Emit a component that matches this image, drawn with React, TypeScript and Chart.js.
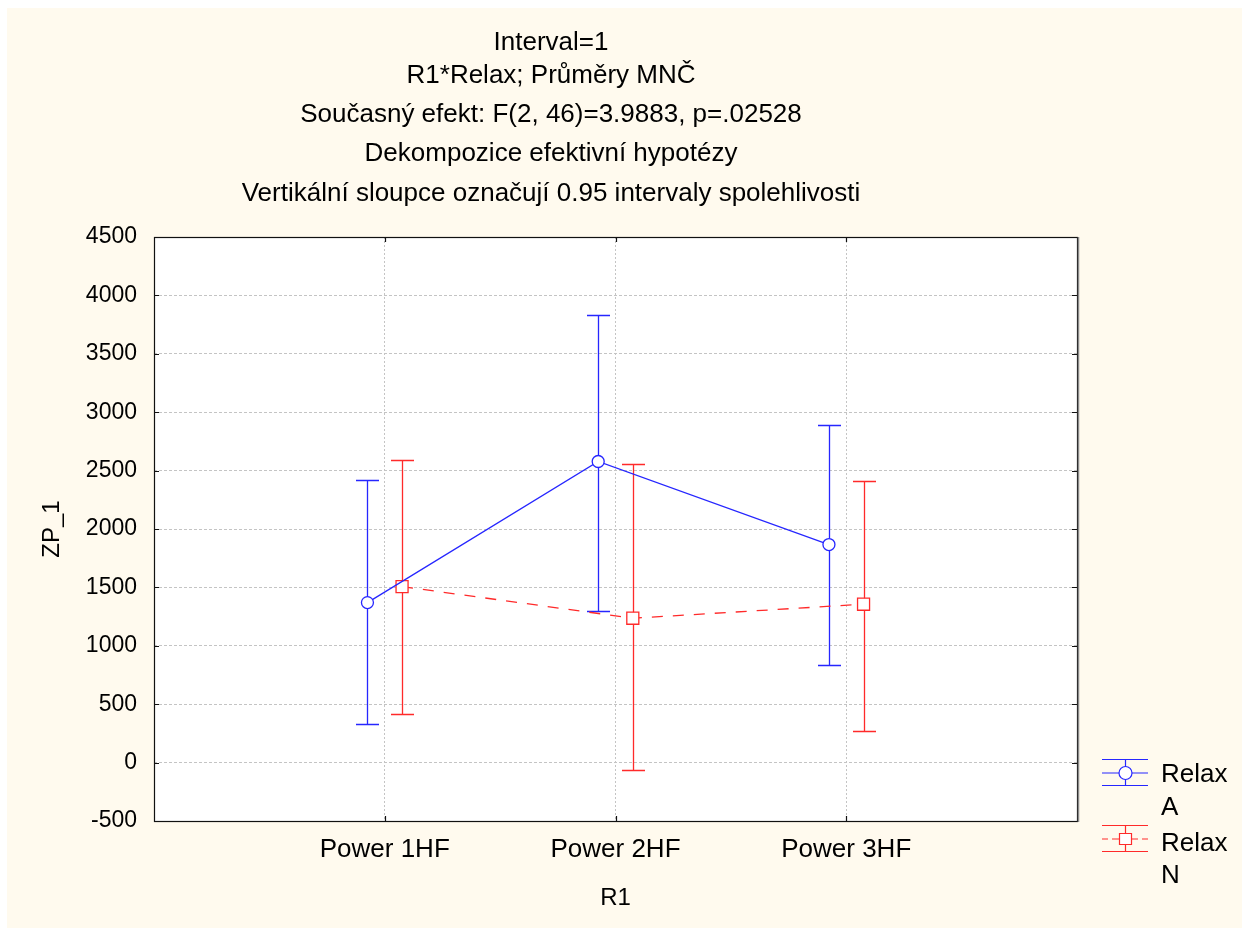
import React, { useEffect, useRef } from "react";
import { Chart, registerables } from "chart.js";

Chart.register(...registerables);

// ---------- data ----------
const categories = ["Power 1HF", "Power 2HF", "Power 3HF"];
const yTickValues = [-500, 0, 500, 1000, 1500, 2000, 2500, 3000, 3500, 4000, 4500];

const relaxAMeans = [1370, 2578, 1867];
const relaxALower = [328, 1299, 834];
const relaxAUpper = [2421, 3829, 2890];

const relaxNMeans = [1507, 1236, 1356];
const relaxNLower = [419, -66, 274];
const relaxNUpper = [2590, 2556, 2407];

const titleLines = [
  "Interval=1",
  "R1*Relax; Průměry MNČ",
  "Současný efekt: F(2, 46)=3.9883, p=.02528",
  "Dekompozice efektivní hypotézy",
  "Vertikální sloupce označují 0.95 intervaly spolehlivosti",
];
const legendLines = [
  ["Relax", "A"],
  ["Relax", "N"],
];
const xAxisTitle = "R1";
const yAxisTitle = "ZP_1";

// ---------- style ----------
const BLUE = "#2626ff";
const RED = "#ff2a2a";
const CREAM = "#fffaee";
const GRID = "#c4c4c4";
const FONT = '"Liberation Sans", Arial, sans-serif';
const TITLE_SIZE = 26;
const LEGEND_SIZE = 26;
const XTICK_SIZE = 26;
const YTICK_SIZE = 23;
const AXIS_TITLE_SIZE = 24;
const SERIES_OFFSET = 0.075;
const CAP = 11.5;
const W = 1235;
const H = 920;

const bgPlugin = {
  id: "bgPlugin",
  beforeDraw(chart: any) {
    const { ctx, chartArea } = chart;
    ctx.save();
    ctx.fillStyle = CREAM;
    ctx.fillRect(0, 0, chart.width, chart.height);
    ctx.fillStyle = "#ffffff";
    ctx.fillRect(chartArea.left, chartArea.top, chartArea.right - chartArea.left, chartArea.bottom - chartArea.top);
    ctx.restore();
  },
};

const errorBarPlugin = {
  id: "errorBarPlugin",
  beforeDatasetsDraw(chart: any) {
    const { ctx } = chart;
    const xs = chart.scales.x;
    const ys = chart.scales.y;
    chart.data.datasets.forEach((ds: any) => {
      ctx.save();
      ctx.strokeStyle = ds.borderColor;
      ctx.lineWidth = 1.3;
      ctx.setLineDash([]);
      ds.data.forEach((pt: any, i: number) => {
        const px = Math.round(xs.getPixelForValue(pt.x)) + 0.5;
        const lo = Math.round(ys.getPixelForValue(ds.errLow[i])) + 0.5;
        const hi = Math.round(ys.getPixelForValue(ds.errHigh[i])) + 0.5;
        ctx.beginPath();
        ctx.moveTo(px, lo);
        ctx.lineTo(px, hi);
        ctx.moveTo(px - CAP, lo);
        ctx.lineTo(px + CAP, lo);
        ctx.moveTo(px - CAP, hi);
        ctx.lineTo(px + CAP, hi);
        ctx.stroke();
      });
      ctx.restore();
    });
  },
};

const framePlugin = {
  id: "framePlugin",
  afterDraw(chart: any) {
    const { ctx, chartArea } = chart;
    const { left, right, top, bottom } = chartArea;
    const xs = chart.scales.x;
    const ys = chart.scales.y;
    ctx.save();
    ctx.setLineDash([]);
    ctx.strokeStyle = "#111";
    ctx.lineWidth = 1.2;
    ctx.strokeRect(Math.round(left) + 0.5, Math.round(top) + 0.5, Math.round(right - left), Math.round(bottom - top));
    ctx.strokeStyle = "#8a8a8a";
    ctx.lineWidth = 1.5;
    ctx.beginPath();
    ctx.moveTo(Math.round(right) + 1.5, top);
    ctx.lineTo(Math.round(right) + 1.5, bottom + 1);
    ctx.stroke();
    // inward tick marks
    ctx.strokeStyle = "#111";
    ctx.lineWidth = 1.2;
    ctx.beginPath();
    yTickValues.forEach((v) => {
      const py = Math.round(ys.getPixelForValue(v)) + 0.5;
      ctx.moveTo(left, py);
      ctx.lineTo(left + 5, py);
      ctx.moveTo(right, py);
      ctx.lineTo(right - 5, py);
    });
    categories.forEach((_, i) => {
      const px = Math.round(xs.getPixelForValue(i + 1)) + 0.5;
      ctx.moveTo(px, top);
      ctx.lineTo(px, top + 5);
      ctx.moveTo(px, bottom);
      ctx.lineTo(px, bottom - 5);
    });
    ctx.stroke();
    ctx.restore();
  },
};

const titlePlugin = {
  id: "titlePlugin",
  afterDraw(chart: any) {
    const { ctx } = chart;
    const ys = [35, 68, 107, 146, 186];
    ctx.save();
    ctx.fillStyle = "#000";
    ctx.font = `${TITLE_SIZE}px ${FONT}`;
    ctx.textAlign = "center";
    ctx.textBaseline = "middle";
    titleLines.forEach((t, i) => ctx.fillText(t, 544, ys[i]));
    ctx.restore();
  },
};

const legendPlugin = {
  id: "legendPlugin",
  afterDraw(chart: any) {
    const { ctx } = chart;
    const entries = [
      { cx: 1118, cy: 765, color: BLUE, marker: "circle", dashed: false, textY: [767, 800] },
      { cx: 1118, cy: 831, color: RED, marker: "rect", dashed: true, textY: [836, 868] },
    ];
    ctx.save();
    entries.forEach((e, k) => {
      ctx.strokeStyle = e.color;
      ctx.lineWidth = 1.2;
      ctx.setLineDash([]);
      ctx.beginPath();
      ctx.moveTo(e.cx - 23, e.cy - 13.5);
      ctx.lineTo(e.cx + 23, e.cy - 13.5);
      ctx.moveTo(e.cx - 23, e.cy + 12.5);
      ctx.lineTo(e.cx + 23, e.cy + 12.5);
      ctx.moveTo(e.cx + 0.5, e.cy - 13.5);
      ctx.lineTo(e.cx + 0.5, e.cy + 12.5);
      if (e.dashed) {
        ctx.moveTo(e.cx - 23, e.cy);
        ctx.lineTo(e.cx - 17, e.cy);
        ctx.moveTo(e.cx - 13, e.cy);
        ctx.lineTo(e.cx - 6, e.cy);
        ctx.moveTo(e.cx + 6, e.cy);
        ctx.lineTo(e.cx + 13, e.cy);
        ctx.moveTo(e.cx + 17, e.cy);
        ctx.lineTo(e.cx + 23, e.cy);
      } else {
        ctx.moveTo(e.cx - 23, e.cy);
        ctx.lineTo(e.cx + 23, e.cy);
      }
      ctx.stroke();
      ctx.fillStyle = "#fff";
      ctx.beginPath();
      if (e.marker === "circle") {
        ctx.arc(e.cx + 0.5, e.cy, 6.5, 0, Math.PI * 2);
      } else {
        ctx.rect(e.cx - 5.5, e.cy - 5.5, 12, 11);
      }
      ctx.fill();
      ctx.stroke();
      ctx.fillStyle = "#000";
      ctx.font = `${LEGEND_SIZE}px ${FONT}`;
      ctx.textAlign = "left";
      ctx.textBaseline = "middle";
      ctx.fillText(legendLines[k][0], 1154, e.textY[0]);
      ctx.fillText(legendLines[k][1], 1154, e.textY[1]);
    });
    ctx.restore();
  },
};

export default function App() {
  const canvasRef = useRef<HTMLCanvasElement | null>(null);

  useEffect(() => {
    const canvas = canvasRef.current;
    if (!canvas) return;
    const chart = new Chart(canvas, {
      type: "line",
      data: {
        datasets: [
          {
            label: "Relax A",
            data: relaxAMeans.map((v, i) => ({ x: i + 1 - SERIES_OFFSET, y: v })),
            errLow: relaxALower,
            errHigh: relaxAUpper,
            borderColor: BLUE,
            borderWidth: 1.3,
            pointStyle: "circle",
            pointRadius: 6,
            pointBorderWidth: 1.3,
            pointBackgroundColor: "#ffffff",
            pointBorderColor: BLUE,
            tension: 0,
            fill: false,
          } as any,
          {
            label: "Relax N",
            data: relaxNMeans.map((v, i) => ({ x: i + 1 + SERIES_OFFSET, y: v })),
            errLow: relaxNLower,
            errHigh: relaxNUpper,
            borderColor: RED,
            borderWidth: 1.3,
            borderDash: [11, 10],
            pointStyle: "rect",
            pointRadius: 8.5,
            pointBorderWidth: 1.3,
            pointBackgroundColor: "#ffffff",
            pointBorderColor: RED,
            tension: 0,
            fill: false,
          } as any,
        ],
      },
      options: {
        animation: false,
        responsive: false,
        maintainAspectRatio: false,
        layout: { padding: { top: 229, right: 165, left: 0, bottom: 0 } },
        plugins: {
          legend: { display: false },
          title: { display: false },
          tooltip: { enabled: false },
        },
        scales: {
          x: {
            type: "linear",
            min: 0,
            max: 4,
            afterFit: (s: any) => {
              s.height = 107;
            },
            afterBuildTicks: (s: any) => {
              s.ticks = [0, 1, 2, 3, 4].map((v) => ({ value: v }));
            },
            ticks: {
              autoSkip: false,
              maxRotation: 0,
              padding: 13,
              color: "#000",
              font: { family: FONT, size: XTICK_SIZE },
              callback: (v: any) => categories[Number(v) - 1] ?? "",
            },
            grid: {
              drawTicks: false,
              lineWidth: 1,
              color: (c: any) => {
                const v = c.tick ? c.tick.value : null;
                return v === 1 || v === 2 || v === 3 ? GRID : "rgba(0,0,0,0)";
              },
            },
            border: { display: false, dash: [2, 2] },
            title: {
              display: true,
              text: xAxisTitle,
              color: "#000",
              font: { family: FONT, size: AXIS_TITLE_SIZE },
              padding: { top: 0, bottom: 15.6 },
            },
          },
          y: {
            type: "linear",
            min: -500,
            max: 4500,
            afterFit: (s: any) => {
              s.width = 147;
            },
            afterBuildTicks: (s: any) => {
              s.ticks = yTickValues.map((v) => ({ value: v }));
            },
            ticks: {
              padding: 17,
              color: "#000",
              font: { family: FONT, size: YTICK_SIZE },
              callback: (v: any) => String(v),
            },
            grid: {
              drawTicks: false,
              lineWidth: 1,
              color: GRID,
            },
            border: { display: false, dash: [3, 2] },
            title: {
              display: true,
              text: yAxisTitle,
              color: "#000",
              font: { family: FONT, size: AXIS_TITLE_SIZE },
              padding: { top: 30.6, bottom: 0 },
            },
          },
        },
      } as any,
      plugins: [bgPlugin, errorBarPlugin, framePlugin, titlePlugin, legendPlugin],
    });
    return () => chart.destroy();
  }, []);

  return (
    <div style={{ position: "fixed", left: 7, top: 8, width: W, height: H, background: CREAM }}>
      <canvas ref={canvasRef} width={W} height={H} style={{ display: "block" }} />
    </div>
  );
}
